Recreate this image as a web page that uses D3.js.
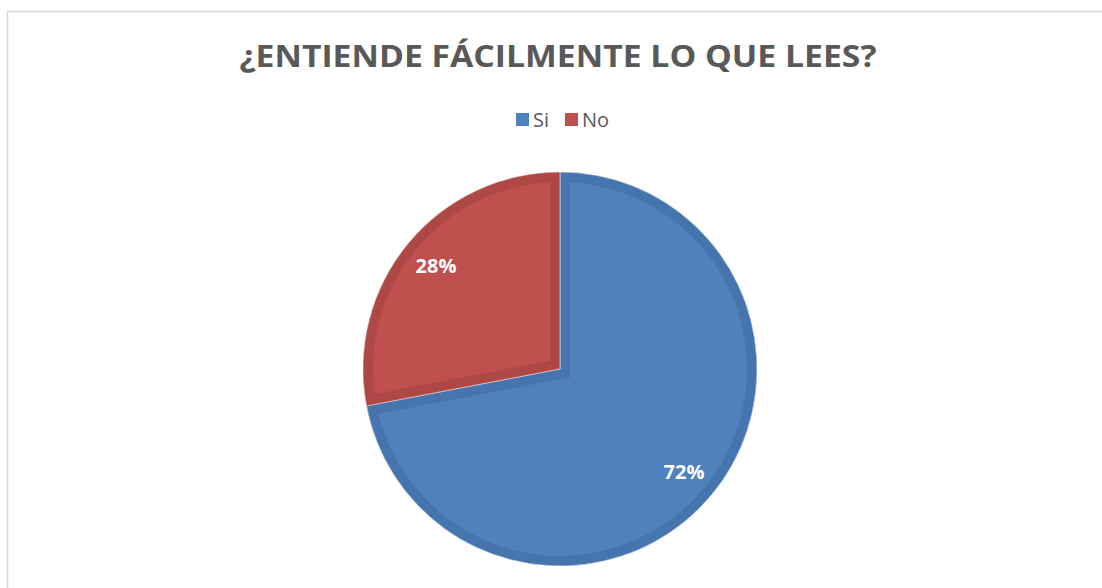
<!DOCTYPE html>
<html>
<head>
<meta charset="utf-8">
<script src="https://cdn.jsdelivr.net/npm/d3@7"></script>
<style>
  body { margin: 0; background: #fff; }
  svg { display: block; }
</style>
</head>
<body>
<div id="chart"></div>
<script>
// datos de la encuesta
var categorias = ["Si", "No"];
var valores = [72, 28];
var colores = ["#4F81BD", "#C0504D"];
var bordes = ["#4674AD", "#AD4845"];
var titulo = "¿ENTIENDE FÁCILMENTE LO QUE LEES?";

var width = 1102,
    height = 588,
    cx = 560, cy = 369, radio = 197;

var svg = d3.select("#chart").append("svg")
    .attr("width", width)
    .attr("height", height);

// marco del grafico (sigue fuera de la imagen por derecha y abajo)
svg.append("rect")
  .attr("x", 7.5).attr("y", 11.5)
  .attr("width", 1300).attr("height", 800)
  .attr("fill", "none")
  .attr("stroke", "#D9D9D9")
  .attr("stroke-width", 1.5);

svg.append("text")
  .attr("x", 558).attr("y", 67)
  .attr("text-anchor", "middle")
  .attr("textLength", 637)
  .attr("lengthAdjust", "spacingAndGlyphs")
  .style("font-family", "'Open Sans', sans-serif")
  .style("font-weight", "bold")
  .style("font-size", "31px")
  .style("fill", "#595959")
  .text(titulo);

// leyenda
var leyenda = svg.append("g").attr("transform", "translate(516,113)");
var posX = [0, 49];
var items = leyenda.selectAll("g.item")
  .data(categorias)
  .enter().append("g")
  .attr("class", "item")
  .attr("transform", function (d, i) { return "translate(" + posX[i] + ",0)"; });
items.append("rect")
  .attr("width", 13).attr("height", 13)
  .attr("fill", function (d, i) { return colores[i]; });
items.append("text")
  .attr("x", 17).attr("y", 13.5)
  .style("font-family", "'Open Sans', sans-serif")
  .style("font-size", "20px")
  .style("fill", "#595959")
  .text(function (d) { return d; });

var datos = categorias.map(function (c, i) { return { cat: c, valor: valores[i], i: i }; });

var pie = d3.pie()
  .sort(null)
  .value(function (d) { return d.valor; })
  .startAngle(0)
  .endAngle(2 * Math.PI);

var arc = d3.arc().innerRadius(0).outerRadius(radio);
var arcTexto = d3.arc().innerRadius(161).outerRadius(161);

var g = svg.append("g").attr("transform", "translate(" + cx + "," + cy + ")");
var defs = svg.append("defs");
var arcos = pie(datos);

defs.selectAll("clipPath")
  .data(arcos)
  .enter().append("clipPath")
  .attr("id", function (d) { return "clip" + d.data.i; })
  .append("path")
  .attr("d", arc);

var rebanadas = g.selectAll("g.slice")
  .data(arcos)
  .enter().append("g")
  .attr("class", "slice");

rebanadas.append("path")
  .attr("d", arc)
  .attr("fill", function (d) { return colores[d.data.i]; });

// borde interior mas oscuro
rebanadas.append("path")
  .attr("d", arc)
  .attr("fill", "none")
  .attr("stroke", function (d) { return bordes[d.data.i]; })
  .attr("stroke-width", 20)
  .attr("stroke-linejoin", "miter")
  .attr("clip-path", function (d) { return "url(#clip" + d.data.i + ")"; });

rebanadas.append("path")
  .attr("d", arc)
  .attr("fill", "none")
  .attr("stroke", "#fff")
  .attr("stroke-opacity", 0.5)
  .attr("stroke-width", 1);

g.selectAll("text.etiqueta")
  .data(arcos)
  .enter().append("text")
  .attr("class", "etiqueta")
  .attr("transform", function (d) { return "translate(" + arcTexto.centroid(d) + ")"; })
  .attr("text-anchor", "middle")
  .attr("dy", "0.35em")
  .style("font-family", "'Open Sans', sans-serif")
  .style("font-weight", "bold")
  .style("font-size", "20px")
  .style("fill", "#fff")
  .text(function (d) { return d.data.valor + "%"; });
</script>
</body>
</html>
